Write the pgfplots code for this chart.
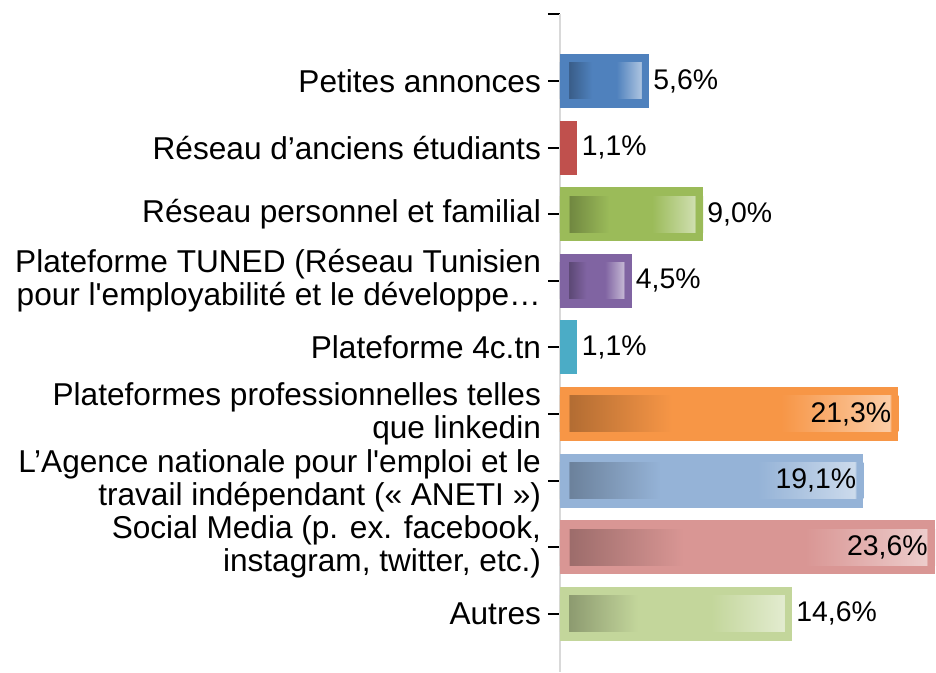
\documentclass[border=0pt]{standalone}
\usepackage{pgfplots}
\pgfplotsset{compat=1.18}
\usepackage{fontspec}
\setmainfont{Liberation Sans}[Ligatures=TeXOff]

\definecolor{cA}{HTML}{4F81BD}
\definecolor{cB}{HTML}{C0504D}
\definecolor{cC}{HTML}{9BBB59}
\definecolor{cD}{HTML}{8064A2}
\definecolor{cE}{HTML}{4BACC6}
\definecolor{cF}{HTML}{F79646}
\definecolor{cG}{HTML}{95B3D7}
\definecolor{cH}{HTML}{D99694}
\definecolor{cI}{HTML}{C3D69B}
\definecolor{axgray}{HTML}{D9D9D9}

% inner gradient of a bar: dark left, plain middle, pale right, with a rim of the bar colour
% #1 shading name, #2 bar colour, #3 value (bar length in %)
\newcommand\mkshade[3]{%
  \colorlet{#1d}{#2!72!black}%
  \colorlet{#1l}{#2!48!white}%
  \pgfmathsetmacro\pA{25+50*9/(#3*15.9)}%
  \pgfmathsetmacro\pB{\pA+0.01}%
  \pgfmathsetmacro\pF{75-50*8/(#3*15.9)}%
  \pgfmathsetmacro\pE{\pF-0.01}%
  \pgfmathsetmacro\pC{\pB+(\pE-\pB)*0.32}%
  \pgfmathsetmacro\pD{\pB+(\pE-\pB)*0.66}%
  \edef\tmp{\noexpand\pgfdeclarehorizontalshading{#1}{100bp}{%
    color(0bp)=(#2); color(\pA bp)=(#2); color(\pB bp)=(#1d); color(\pC bp)=(#2);
    color(\pD bp)=(#2); color(\pE bp)=(#1l); color(\pF bp)=(#2); color(100bp)=(#2)}}%
  \tmp}
\mkshade{shA}{cA}{5.6}
\mkshade{shC}{cC}{9.0}
\mkshade{shD}{cD}{4.5}
\mkshade{shF}{cF}{21.3}
\mkshade{shG}{cG}{19.1}
\mkshade{shH}{cH}{23.6}
\mkshade{shI}{cI}{14.6}

\pgfplotsset{
  barout/.style={fill=#1, draw=none, bar width=27pt},
  barin/.style={draw=none, bar width=18pt, shading=#1},
  lblout/.style={nodes near coords, point meta=explicit symbolic,
    every node near coord/.append style={anchor=west, inner sep=0pt, xshift=2pt,
      text=black, font=\fontsize{14.2}{17}\selectfont}},
  lblin/.style={nodes near coords, point meta=explicit symbolic,
    every node near coord/.append style={anchor=east, inner sep=0pt, xshift=-3.5pt,
      text=black, font=\fontsize{14.2}{17}\selectfont}},
}

\begin{document}
\begin{tikzpicture}
\begin{axis}[
    scale only axis,
    width=187.5pt, height=329pt,
    xmin=0, xmax=23.6,
    ymin=0, ymax=9.88,
    y dir=reverse,
    xbar, bar shift=0pt,
    clip=false,
    axis x line=none,
    axis y line*=left,
    y axis line style={draw=axgray, line width=1pt},
    xtick=\empty,
    ytick={0,...,9},
    yticklabels={{},
      {Petites annonces},
      {Réseau d’anciens étudiants},
      {Réseau personnel et familial},
      {Plateforme TUNED (Réseau Tunisien\\pour l'employabilité et le  développe…},
      {Plateforme 4c.tn},
      {Plateformes professionnelles telles\\que linkedin},
      {L’Agence nationale pour l'emploi et le\\travail indépendant (« ANETI »)},
      {Social Media (p. ex. facebook,\\instagram, twitter, etc.)},
      {Autres}},
    tick align=outside,
    major tick length=6pt,
    ytick style={draw=black, line width=1pt},
    yticklabel style={font=\fontsize{15.8}{16.5}\selectfont, align=right, text=black},
]
\addplot[barout=cA] coordinates {(5.6,1)};
\addplot[barin=shA, lblout] coordinates {(5.6,1) [5,6\%]};

\addplot[barout=cB, lblout] coordinates {(1.1,2) [1,1\%]};

\addplot[barout=cC] coordinates {(9.0,3)};
\addplot[barin=shC, lblout] coordinates {(9.0,3) [9,0\%]};

\addplot[barout=cD] coordinates {(4.5,4)};
\addplot[barin=shD, lblout] coordinates {(4.5,4) [4,5\%]};

\addplot[barout=cE, lblout] coordinates {(1.1,5) [1,1\%]};

\addplot[barout=cF] coordinates {(21.3,6)};
\addplot[barin=shF, lblin] coordinates {(21.3,6) [21,3\%]};

\addplot[barout=cG] coordinates {(19.1,7)};
\addplot[barin=shG, lblin] coordinates {(19.1,7) [19,1\%]};

\addplot[barout=cH] coordinates {(23.6,8)};
\addplot[barin=shH, lblin] coordinates {(23.6,8) [23,6\%]};

\addplot[barout=cI] coordinates {(14.6,9)};
\addplot[barin=shI, lblout] coordinates {(14.6,9) [14,6\%]};
\end{axis}
\pgfresetboundingbox
\path ([xshift=-280pt]current axis.south west) rectangle ([xshift=0.5pt,yshift=7.2pt]current axis.north east);
\end{tikzpicture}
\end{document}
